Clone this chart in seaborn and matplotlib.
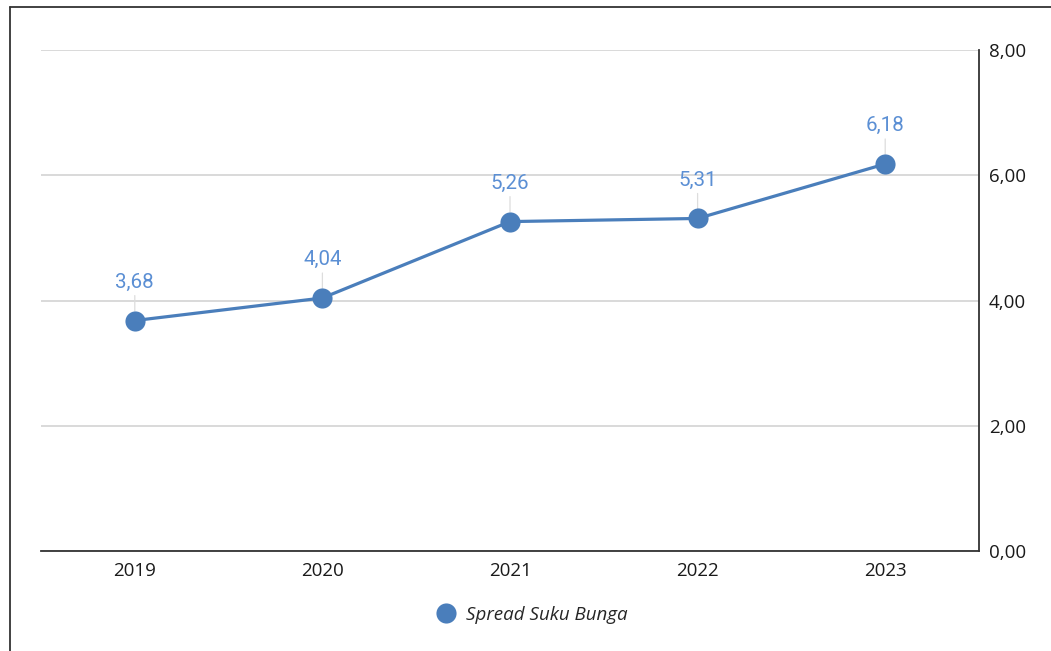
import matplotlib
matplotlib.use("Agg")
import matplotlib.pyplot as plt
from matplotlib.lines import Line2D
import seaborn as sns
import pandas as pd

years = ["2019", "2020", "2021", "2022", "2023"]
spread = [3.68, 4.04, 5.26, 5.31, 6.18]
series_name = "Spread Suku Bunga"
y_ticks = [0, 2, 4, 6, 8]

LINE_COLOR = "#4a7ebb"
LABEL_COLOR = "#5b8fd4"

sns.set_theme(style="white")
plt.rcParams["font.family"] = ["Open Sans", "DejaVu Sans"]

W, H = 1051, 651
fig = plt.figure(figsize=(W / 100, H / 100), dpi=100)
ax = fig.add_axes([41 / W, 100 / H, (979 - 41) / W, (551 - 50) / H])

df = pd.DataFrame({"Tahun": years, "Nilai": spread})
sns.lineplot(data=df, x="Tahun", y="Nilai", ax=ax, color=LINE_COLOR,
             linewidth=2.3, marker="o", markersize=14.5,
             markeredgewidth=0, sort=False, zorder=3)

ax.set_xlim(-0.5, len(years) - 0.5)
ax.set_ylim(0, 8)
ax.set_yticks(y_ticks)
ax.set_yticklabels([f"{v:.2f}".replace(".", ",") for v in y_ticks])
ax.yaxis.tick_right()
ax.set_xlabel("")
ax.set_ylabel("")
ax.tick_params(axis="both", length=0, labelsize=13.5, colors="#1a1a1a")
ax.tick_params(axis="y", pad=7)
ax.tick_params(axis="x", pad=8)

ax.grid(axis="y", color="#d0d0d0", linewidth=1.1)
ax.grid(axis="x", visible=False)
for s in ["left", "top"]:
    ax.spines[s].set_visible(False)
for s in ["bottom", "right"]:
    ax.spines[s].set_color("#333333")
    ax.spines[s].set_linewidth(1.3)

for i, v in enumerate(spread):
    ax.annotate(f"{v:.2f}".replace(".", ","), xy=(i, v), xytext=(0, 27.5),
                textcoords="offset points", ha="center", va="center",
                color=LABEL_COLOR, fontsize=14.8, family=["Roboto", "DejaVu Sans"],
                zorder=4)
    ax.annotate("", xy=(i, v), xytext=(0, 18), textcoords="offset points",
                arrowprops=dict(arrowstyle="-", color="#dddddd", lw=0.9,
                                shrinkA=0, shrinkB=7), zorder=2)

handle = Line2D([0], [0], linestyle="none", marker="o", markersize=14.5,
                markerfacecolor=LINE_COLOR, markeredgewidth=0)
fig.legend([handle], [series_name], loc="center",
           bbox_to_anchor=(532 / W, 1 - 615 / H),
           frameon=False, prop=dict(family="Open Sans", style="italic", size=13.5),
           handletextpad=0.6, handlelength=1.0)

# outer frame (top and left edges)
fig.add_artist(Line2D([9.5 / W, 9.5 / W], [0, 1 - 7 / H], transform=fig.transFigure,
                      color="#333333", linewidth=1.3))
fig.add_artist(Line2D([9.5 / W, 1], [1 - 7 / H, 1 - 7 / H], transform=fig.transFigure,
                      color="#333333", linewidth=1.3))

fig.savefig("out.png", dpi=100, facecolor="white")
